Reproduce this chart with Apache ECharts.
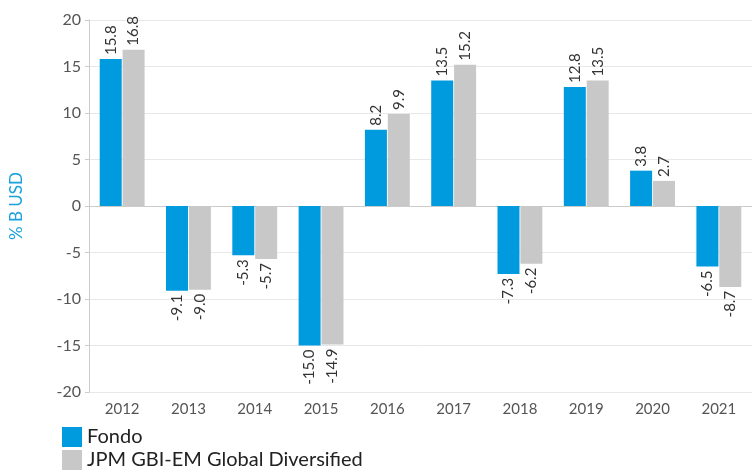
<!DOCTYPE html>
<html><head><meta charset="utf-8">
<script src="https://cdn.jsdelivr.net/npm/echarts@6/dist/echarts.min.js"></script>
<style>html,body{margin:0;padding:0;background:#fff}#c{width:752px;height:470px}</style>
</head><body><div id="c"></div>
<script>
const categories = ['2012','2013','2014','2015','2016','2017','2018','2019','2020','2021'];
const fondo = [15.8, -9.1, -5.3, -15.0, 8.2, 13.5, -7.3, 12.8, 3.8, -6.5];
const jpm = [16.8, -9.0, -5.7, -14.9, 9.9, 15.2, -6.2, 13.5, 2.7, -8.7];
const seriesNames = ['Fondo', 'JPM GBI-EM Global Diversified'];
const yTicks = {min: -20, max: 20, interval: 5};

const FONT = 'Lato, "Noto Sans", sans-serif';
function mkData(arr){
  return arr.map(v => ({
    value: v,
    label: v >= 0
      ? {position: 'top', align: 'left', verticalAlign: 'middle'}
      : {position: 'bottom', align: 'right', verticalAlign: 'middle'}
  }));
}
const labelBase = {show: true, rotate: 90, distance: 4, fontSize: 15, color: '#333', fontFamily: FONT,
  formatter: p => p.value.toFixed(1)};
const legendBase = {orient: 'vertical', left: 62, padding: 0, itemWidth: 20, itemHeight: 20, icon: 'rect',
  textStyle: {fontSize: 20, color: '#222', fontFamily: FONT}};

const chart = echarts.init(document.getElementById('c'));
chart.setOption({
  animation: false,
  textStyle: {fontFamily: FONT},
  grid: {left: 87, right: 0, top: 20, bottom: 78},
  legend: [
    Object.assign({data: [seriesNames[0]], top: 427}, legendBase),
    Object.assign({data: [seriesNames[1]], top: 450}, legendBase)
  ],
  xAxis: {
    type: 'category', data: categories,
    axisLine: {show: true, lineStyle: {color: '#ccc'}},
    axisTick: {show: false},
    axisLabel: {fontSize: 15, color: '#555', margin: 10}
  },
  yAxis: {
    type: 'value', min: yTicks.min, max: yTicks.max, interval: yTicks.interval,
    name: '% B USD', nameLocation: 'middle', nameGap: 64, nameRotate: 90,
    nameTextStyle: {fontSize: 17, color: '#1ba1dc', fontFamily: FONT},
    axisLine: {show: true, lineStyle: {color: '#ccc'}},
    axisTick: {show: true, length: 4, lineStyle: {color: '#ccc'}},
    axisLabel: {fontSize: 16, color: '#555', margin: 8},
    splitLine: {lineStyle: {color: '#e8e8e8'}}
  },
  series: [
    {name: seriesNames[0], type: 'bar', data: mkData(fondo), barWidth: 22, barGap: '4%',
     itemStyle: {color: '#009ade'}, label: labelBase},
    {name: seriesNames[1], type: 'bar', data: mkData(jpm), barWidth: 22,
     itemStyle: {color: '#c8c8c8'}, label: labelBase}
  ]
});
</script></body></html>
